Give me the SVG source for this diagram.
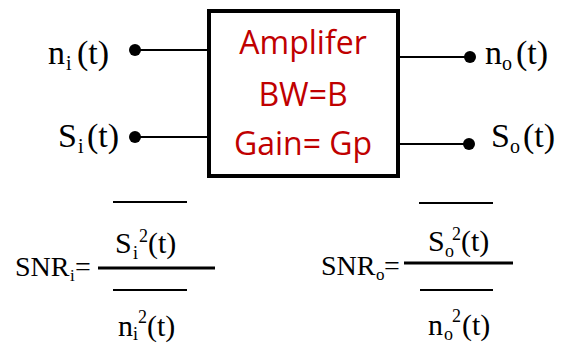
<svg xmlns="http://www.w3.org/2000/svg" width="568" height="343" viewBox="0 0 568 343">
<style>
.lbl{font-family:"Liberation Serif","Times New Roman",serif;fill:#000}
.amp{font-family:"Open Sans","Liberation Sans",sans-serif;font-size:32px;fill:#c00000;text-anchor:middle}
.wire{stroke:#000;stroke-width:2;fill:none}
.bar{stroke:#000;stroke-width:2}
.mbar{stroke:#000;stroke-width:3}
.dot{fill:#000}
</style>
<rect width="568" height="343" fill="#fff"/>
<g id="connectors">
<line class="wire" x1="135" y1="50" x2="209" y2="50"/>
<line class="wire" x1="135" y1="137" x2="209" y2="137"/>
<line class="wire" x1="398" y1="57" x2="470" y2="57"/>
<line class="wire" x1="398" y1="144" x2="469" y2="144"/>
<circle class="dot" cx="135" cy="50" r="6"/>
<circle class="dot" cx="135" cy="137" r="6"/>
<circle class="dot" cx="470" cy="57" r="6"/>
<circle class="dot" cx="469" cy="144" r="6"/>
</g>
<g id="amplifier">
<rect x="209" y="11" width="189" height="165" fill="#fff" stroke="#000" stroke-width="4"/>
<text class="amp" x="303" y="54">Amplifer</text>
<text class="amp" x="303" y="106">BW=B</text>
<text class="amp" x="303" y="155">Gain= Gp</text>
</g>
<g id="ni">
<text class="lbl" font-size="34"><tspan x="48" y="64">n</tspan><tspan x="66" y="70" font-size="20">i</tspan><tspan x="77" y="64">(t)</tspan></text>
</g>
<g id="si">
<text class="lbl" font-size="34"><tspan x="58" y="147">S</tspan><tspan x="78" y="153" font-size="20">i</tspan><tspan x="87" y="147">(t)</tspan></text>
</g>
<g id="no">
<text class="lbl" font-size="34"><tspan x="485" y="64">n</tspan><tspan x="502" y="70" font-size="20">o</tspan><tspan x="516" y="64">(t)</tspan></text>
</g>
<g id="so">
<text class="lbl" font-size="34"><tspan x="491" y="147">S</tspan><tspan x="510" y="153" font-size="20">o</tspan><tspan x="523" y="147">(t)</tspan></text>
</g>
<g id="snri">
<text class="lbl" font-size="28"><tspan x="15" y="276">SNR</tspan><tspan x="70" y="281" font-size="17">i</tspan><tspan x="75" y="276">=</tspan></text>
<line class="bar" x1="113" y1="202" x2="187" y2="202"/>
<text class="lbl" font-size="30"><tspan x="115" y="253">S</tspan><tspan x="133" y="259" font-size="18">i</tspan><tspan x="139" y="242" font-size="18">2</tspan><tspan x="148" y="253">(t)</tspan></text>
<line class="mbar" x1="98" y1="268" x2="215" y2="268"/>
<line class="bar" x1="113" y1="290" x2="187" y2="290"/>
<text class="lbl" font-size="30"><tspan x="118" y="336">n</tspan><tspan x="133" y="340" font-size="18">i</tspan><tspan x="138" y="323" font-size="18">2</tspan><tspan x="147" y="336">(t)</tspan></text>
</g>
<g id="snro">
<text class="lbl" font-size="28"><tspan x="321" y="275">SNR</tspan><tspan x="376" y="280" font-size="17">o</tspan><tspan x="384" y="275">=</tspan></text>
<line class="bar" x1="419" y1="203" x2="493" y2="203"/>
<text class="lbl" font-size="30"><tspan x="428" y="251">S</tspan><tspan x="445" y="257" font-size="18">o</tspan><tspan x="452" y="240" font-size="18">2</tspan><tspan x="461" y="251">(t)</tspan></text>
<line class="mbar" x1="404" y1="263" x2="513" y2="263"/>
<line class="bar" x1="420" y1="290" x2="493" y2="290"/>
<text class="lbl" font-size="30"><tspan x="428" y="335">n</tspan><tspan x="444" y="340" font-size="18">o</tspan><tspan x="452" y="322" font-size="18">2</tspan><tspan x="462" y="335">(t)</tspan></text>
</g>
</svg>
